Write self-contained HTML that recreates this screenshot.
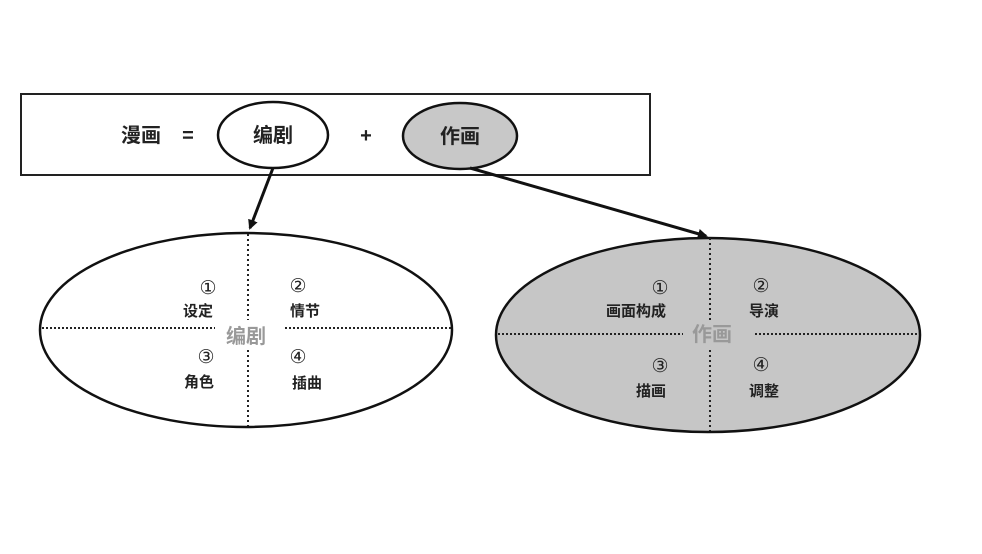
<!DOCTYPE html>
<html><head><meta charset="utf-8"><style>
body{margin:0;background:#fff}
text{font-family:"Liberation Sans","Noto Sans CJK SC",sans-serif;font-weight:bold}
.n{font-family:"DejaVu Sans",sans-serif;font-size:19px;font-weight:normal}
</style></head><body>
<svg width="982" height="549" viewBox="0 0 982 549" xmlns="http://www.w3.org/2000/svg">
<defs><marker id="a" markerWidth="10" markerHeight="10" refX="8" refY="5" orient="auto" markerUnits="userSpaceOnUse"><path d="M0,0 L10,5 L0,10 Z" fill="#111"/></marker></defs>
<rect x="21" y="94" width="629" height="81" fill="#fff" stroke="#222" stroke-width="2"/>
<text x="141" y="142" font-size="20" text-anchor="middle" fill="#222">漫画</text>
<text x="188" y="142" font-size="20" text-anchor="middle" fill="#222">=</text>
<ellipse cx="273" cy="135" rx="55" ry="33" fill="#fff" stroke="#111" stroke-width="2.5"/>
<text x="273" y="142" font-size="20" text-anchor="middle" fill="#222">编剧</text>
<text x="366" y="142" font-size="20" text-anchor="middle" fill="#222">+</text>
<ellipse cx="460" cy="136" rx="57" ry="33" fill="#c8c8c8" stroke="#111" stroke-width="2.5"/>
<text x="460" y="143" font-size="20" text-anchor="middle" fill="#222">作画</text>
<line x1="273" y1="168" x2="250" y2="228" stroke="#111" stroke-width="3" marker-end="url(#a)"/>
<line x1="470" y1="168" x2="706" y2="236" stroke="#111" stroke-width="3" marker-end="url(#a)"/>
<ellipse cx="246" cy="330" rx="206" ry="97" fill="#fff" stroke="#111" stroke-width="2.5"/>
<line x1="248" y1="234" x2="248" y2="320" stroke="#222" stroke-width="2" stroke-dasharray="2,3"/>
<line x1="248" y1="350" x2="248" y2="426" stroke="#222" stroke-width="2" stroke-dasharray="2,3"/>
<line x1="42" y1="328" x2="215" y2="328" stroke="#222" stroke-width="2" stroke-dasharray="2,2"/>
<line x1="285" y1="328" x2="451" y2="328" stroke="#222" stroke-width="2" stroke-dasharray="2,2"/>
<text x="246" y="343" font-size="20" text-anchor="middle" fill="#999">编剧</text>
<g font-size="15" text-anchor="middle" fill="#222">
<text class="n" x="208" y="294">①</text><text x="198" y="316">设定</text>
<text class="n" x="298" y="292">②</text><text x="305" y="316">情节</text>
<text class="n" x="206" y="363">③</text><text x="199" y="387">角色</text>
<text class="n" x="298" y="363">④</text><text x="307" y="388">插曲</text>
</g>
<ellipse cx="708" cy="335" rx="212" ry="97" fill="#c6c6c6" stroke="#111" stroke-width="2.5"/>
<line x1="710" y1="238" x2="710" y2="320" stroke="#222" stroke-width="2" stroke-dasharray="2,3"/>
<line x1="710" y1="350" x2="710" y2="431" stroke="#222" stroke-width="2" stroke-dasharray="2,3"/>
<line x1="498" y1="334" x2="683" y2="334" stroke="#222" stroke-width="2" stroke-dasharray="2,2"/>
<line x1="755" y1="334" x2="919" y2="334" stroke="#222" stroke-width="2" stroke-dasharray="2,2"/>
<text x="712" y="341" font-size="20" text-anchor="middle" fill="#999">作画</text>
<g font-size="15" text-anchor="middle" fill="#222">
<text class="n" x="660" y="294">①</text><text x="636" y="316">画面构成</text>
<text class="n" x="761" y="292">②</text><text x="764" y="316">导演</text>
<text class="n" x="660" y="372">③</text><text x="651" y="396">描画</text>
<text class="n" x="761" y="371">④</text><text x="764" y="396">调整</text>
</g>
</svg>
</body></html>
